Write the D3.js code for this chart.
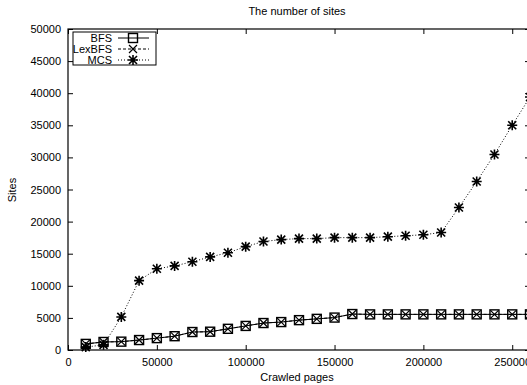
<!DOCTYPE html>
<html>
<head>
<meta charset="utf-8">
<script src="https://cdnjs.cloudflare.com/ajax/libs/d3/7.8.5/d3.min.js"></script>
<style>
    body { margin: 0; background: #fff; }
    text { font-family: 'Liberation Sans', Arial, sans-serif; fill: #000; }
</style>
</head>
<body>
<svg width="527" height="385"></svg>
<script>

// crawled pages (x)
const pages = [10000, 20000, 30000, 40000, 50000, 60000, 70000, 80000, 90000, 100000,
    110000, 120000, 130000, 140000, 150000, 160000, 170000, 180000, 190000, 200000,
    210000, 220000, 230000, 240000, 250000, 260000];

const bfs = [950, 1250, 1300, 1550, 1850, 2150, 2800, 2850, 3300, 3750,
    4200, 4350, 4650, 4850, 5050, 5600, 5550, 5550, 5550, 5550,
    5550, 5550, 5550, 5550, 5550, 5550];

const lexbfs = [950, 1250, 1300, 1550, 1850, 2150, 2800, 2850, 3300, 3750,
    4200, 4350, 4650, 4850, 5050, 5600, 5550, 5550, 5550, 5550,
    5550, 5550, 5550, 5550, 5550, 5550];

const mcs = [450, 800, 5150, 10800, 12650, 13100, 13750, 14500, 15150, 16100,
    16900, 17200, 17350, 17350, 17500, 17500, 17500, 17650, 17800, 17950,
    18300, 22200, 26250, 30450, 35000, 39400];

const xTicks = [0, 50000, 100000, 150000, 200000, 250000];
const yTicks = [0, 5000, 10000, 15000, 20000, 25000, 30000, 35000, 40000, 45000, 50000];

const seriesNames = ['BFS', 'LexBFS', 'MCS'];

const svg = d3.select('svg');

const x = d3.scaleLinear().domain([0, 260000]).range([68, 530]);
const y = d3.scaleLinear().domain([0, 50000]).range([350, 29]);

// frame
svg.append('rect')
    .attr('x', x(0)).attr('y', y(50000))
    .attr('width', x(260000) - x(0)).attr('height', y(0) - y(50000))
    .attr('fill', 'none').attr('stroke', '#000').attr('stroke-width', 1.2);

// axes, ticks pointing inward on all four sides
const styleAxis = g => {
    g.select('.domain').remove();
    g.selectAll('line').attr('stroke', '#000');
    g.selectAll('text').attr('font-size', 11).attr('fill', '#000')
        .style('font-family', "'Liberation Sans', Arial, sans-serif");
};

svg.append('g').attr('transform', `translate(0,${y(0)})`)
    .call(d3.axisBottom(x).tickValues(xTicks).tickFormat(d3.format('d'))
        .tickSizeInner(-5).tickSizeOuter(0).tickPadding(8))
    .call(styleAxis);

svg.append('g').attr('transform', `translate(0,${y(50000)})`)
    .call(d3.axisTop(x).tickValues(xTicks).tickFormat('').tickSizeInner(-5).tickSizeOuter(0))
    .call(styleAxis);

svg.append('g').attr('transform', `translate(${x(0)},0)`)
    .call(d3.axisLeft(y).tickValues(yTicks).tickFormat(d3.format('d'))
        .tickSizeInner(-5).tickSizeOuter(0).tickPadding(7))
    .call(styleAxis);

svg.append('g').attr('transform', `translate(${x(260000)},0)`)
    .call(d3.axisRight(y).tickValues(yTicks).tickFormat('').tickSizeInner(-5).tickSizeOuter(0))
    .call(styleAxis);

// titles
svg.append('text').attr('x', 297).attr('y', 15).attr('text-anchor', 'middle')
    .attr('font-size', 11).text('The number of sites');
svg.append('text').attr('x', 297).attr('y', 381).attr('text-anchor', 'middle')
    .attr('font-size', 11).text('Crawled pages');
svg.append('text').attr('transform', 'translate(16,190) rotate(-90)').attr('text-anchor', 'middle')
    .attr('font-size', 11).text('Sites');

// marker shapes
const drawSquare = (g, cx, cy) => {
    g.append('rect').attr('x', cx - 4.5).attr('y', cy - 4.5).attr('width', 9).attr('height', 9)
        .attr('fill', 'none').attr('stroke', '#000').attr('stroke-width', 1.4);
};
const drawCross = (g, cx, cy) => {
    const s = 4;
    g.append('path').attr('d', `M${cx - s},${cy - s}L${cx + s},${cy + s}M${cx - s},${cy + s}L${cx + s},${cy - s}`)
        .attr('stroke', '#000').attr('stroke-width', 1.2);
};
const drawStar = (g, cx, cy) => {
    const s = 5, d = 4;
    g.append('path')
        .attr('d', `M${cx - s},${cy}L${cx + s},${cy}M${cx},${cy - s}L${cx},${cy + s}` +
            `M${cx - d},${cy - d}L${cx + d},${cy + d}M${cx - d},${cy + d}L${cx + d},${cy - d}`)
        .attr('stroke', '#000').attr('stroke-width', 1.6);
};

const series = [
    {name: seriesNames[0], values: bfs, dash: null, marker: drawSquare},
    {name: seriesNames[1], values: lexbfs, dash: '3,2', marker: drawCross},
    {name: seriesNames[2], values: mcs, dash: '1,2', marker: drawStar}
];

const line = d3.line().x(d => x(d[0])).y(d => y(d[1]));

const plot = svg.append('g');

series.forEach(s => {
    const pts = pages.map((p, i) => [p, s.values[i]]);
    plot.append('path')
        .attr('d', line(pts))
        .attr('fill', 'none')
        .attr('stroke', '#000')
        .attr('stroke-width', 1)
        .attr('stroke-dasharray', s.dash);
    const g = plot.append('g');
    pts.forEach(p => s.marker(g, x(p[0]), y(p[1])));
});

// legend
const legend = svg.append('g');
legend.append('rect').attr('x', 73).attr('y', 32).attr('width', 83).attr('height', 33)
    .attr('fill', '#fff').attr('stroke', '#000').attr('stroke-width', 1);

series.forEach((s, i) => {
    const ly = 38 + i * 11;
    legend.append('text').attr('x', 112).attr('y', ly + 4).attr('text-anchor', 'end')
        .attr('font-size', 11).text(s.name);
    legend.append('line').attr('x1', 118).attr('x2', 149).attr('y1', ly).attr('y2', ly)
        .attr('stroke', '#000').attr('stroke-width', 1).attr('stroke-dasharray', s.dash);
    s.marker(legend, 133, ly);
});

</script>
</body>
</html>
